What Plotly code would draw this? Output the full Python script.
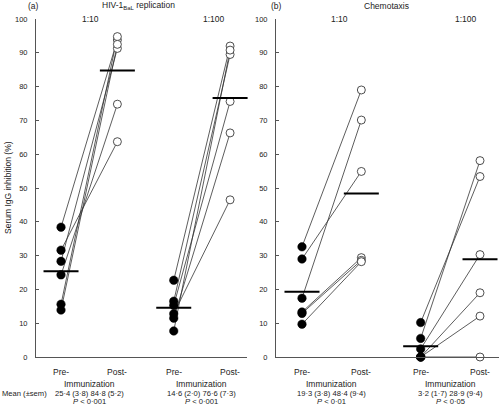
import plotly.graph_objects as go

# ---------------- data ----------------
# positions: 1 = Pre 1:10, 2 = Post 1:10, 3 = Pre 1:100, 4 = Post 1:100
a_110_pre = [38.4, 31.6, 28.3, 24.3, 15.6, 13.9]
a_110_post = [93.8, 63.7, 91.3, 74.8, 94.8, 92.5]
a_1100_pre = [22.7, 16.5, 15.3, 12.8, 11.5, 7.7]
a_1100_post = [92.0, 89.5, 75.6, 46.5, 66.3, 90.8]

b_110_pre = [32.6, 29.0, 17.4, 13.3, 12.9, 9.7]
b_110_post = [79.0, 54.9, 70.1, 29.4, 28.6, 28.2]
b_1100_pre = [10.2, 5.5, 2.4, 0.0, 0.0, 0.0]
b_1100_post = [53.4, 58.1, 30.3, 19.0, 12.1, 0.0]

a_means = [25.4, 84.8, 14.6, 76.6]
b_means = [19.3, 48.4, 3.2, 28.9]

a_stats = ["25·4 (3·8) 84·8 (5·2)", "14·6 (2·0) 76·6 (7·3)"]
a_p = ["<i>P</i> < 0·001", "<i>P</i> < 0·001"]
b_stats = ["19·3 (3·8) 48·4 (9·4)", "3·2 (1·7) 28·9 (9·4)"]
b_p = ["<i>P</i> < 0·01", "<i>P</i> < 0·05"]

dilutions = ["1:10", "1:100"]
y_ticks = [0, 10, 20, 30, 40, 50, 60, 70, 80, 90, 100]

W, H = 499, 409
FONT = "Liberation Sans, Arial, Helvetica, sans-serif"
AX = "#555555"
TXT = "#222222"
FS = 8.5
FS_SMALL = 7.6

def px(x):
    return x / W

def py(y):
    return 1 - y / H

fig = go.Figure()

panels = [
    ("x", "y", [(a_110_pre, a_110_post, 1), (a_1100_pre, a_1100_post, 3)], a_means),
    ("x2", "y2", [(b_110_pre, b_110_post, 1), (b_1100_pre, b_1100_post, 3)], b_means),
]

for xa, ya, groups, means in panels:
    for pre, post, pos in groups:
        for p0, p1 in zip(pre, post):
            fig.add_trace(go.Scatter(
                x=[pos, pos + 1], y=[p0, p1], mode="lines",
                line=dict(color="#333333", width=0.8),
                xaxis=xa, yaxis=ya, showlegend=False, hoverinfo="skip",
                cliponaxis=False))
    for pre, post, pos in groups:
        fig.add_trace(go.Scatter(
            x=[pos] * len(pre), y=pre, mode="markers",
            marker=dict(size=8.5, color="black", line=dict(color="black", width=0.5)),
            xaxis=xa, yaxis=ya, showlegend=False, cliponaxis=False))
        fig.add_trace(go.Scatter(
            x=[pos + 1] * len(post), y=post, mode="markers",
            marker=dict(size=8, color="white", line=dict(color="#222222", width=0.8)),
            xaxis=xa, yaxis=ya, showlegend=False, cliponaxis=False))
    fig.add_trace(go.Scatter(
        x=[1, 2, 3, 4], y=means, mode="markers",
        marker=dict(symbol="line-ew", size=25, line=dict(color="black", width=2)),
        xaxis=xa, yaxis=ya, showlegend=False, cliponaxis=False))

ydom = [py(357), py(19)]
common_x = dict(showgrid=False, zeroline=False, showticklabels=False, ticks="",
                showline=True, linecolor=AX, linewidth=1, automargin=False)
common_y = dict(range=[0, 100], tickvals=y_ticks, showgrid=False, zeroline=False,
                showline=True, linecolor=AX, linewidth=1, ticks="inside", ticklen=3,
                tickcolor=AX, tickfont=dict(size=7.5, color=TXT, family=FONT),
                ticklabelstandoff=6, domain=ydom, automargin=False)

fig.update_layout(
    template="none",
    width=W, height=H, margin=dict(l=0, r=0, t=0, b=0, pad=0),
    paper_bgcolor="white", plot_bgcolor="white",
    font=dict(family=FONT, size=FS, color=TXT),
    xaxis=dict(domain=[px(36), px(247)], range=[0.556, 4.30], anchor="y", **common_x),
    yaxis=dict(anchor="x", **common_y),
    xaxis2=dict(domain=[px(276), px(499)], range=[0.562, 4.32], anchor="y2", **common_x),
    yaxis2=dict(anchor="x2", **common_y),
)

ann = []

def add(text, x, y, xref="paper", size=FS, xanchor="center", angle=0):
    ann.append(dict(text=text, x=x, y=y, xref=xref, yref="paper", showarrow=False,
                    xanchor=xanchor, yanchor="middle", textangle=angle,
                    font=dict(size=size, family=FONT, color=TXT)))

# titles
add("(a)", px(33), py(6))
add("HIV-1<sub>BaL</sub> replication", px(138), py(6))
add("(b)", px(276), py(6))
add("Chemotaxis", px(386), py(6))
# dilution labels
for txt, xp in zip(dilutions, [90, 214]):
    add(txt, px(xp), py(19))
for txt, xp in zip(dilutions, [339, 466]):
    add(txt, px(xp), py(19))
# y title
add("Serum IgG inhibition (%)", px(8), py(188), angle=-90)

# bottom labels
for xref, stats, ps in [("x", a_stats, a_p), ("x2", b_stats, b_p)]:
    for g, base in enumerate([1, 3]):
        add("Pre-", base, py(372), xref=xref)
        add("Post-", base + 1, py(372), xref=xref)
        add("Immunization", base + 0.5, py(384), xref=xref)
        add(stats[g], base + 0.5, py(393), xref=xref, size=FS_SMALL)
        add(ps[g], base + 0.5, py(401.5), xref=xref, size=FS_SMALL)

add("Mean (±sem)", px(0), py(393), xanchor="left", size=FS_SMALL)

fig.update_layout(annotations=ann)
fig.write_html("out.html",
               config={"displayModeBar": False},
               post_script="document.body.style.margin='0px';document.body.style.overflow='hidden';")
